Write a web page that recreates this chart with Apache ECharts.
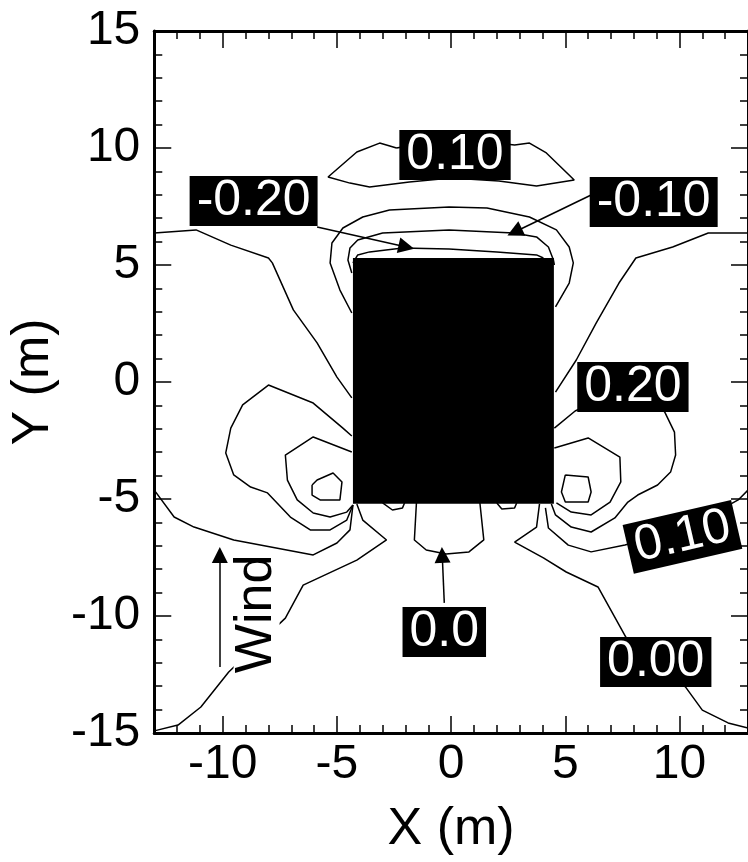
<!DOCTYPE html>
<html>
<head>
<meta charset="utf-8">
<script src="https://cdn.jsdelivr.net/npm/echarts@6/dist/echarts.min.js"></script>
<style>
html,body{margin:0;padding:0;background:#fff;}
#chart{width:748px;height:862px;}
</style>
</head>
<body>
<div id="chart"></div>
<script>
// ---- tick labels ----
const xTicks = [-10, -5, 0, 5, 10];
const yTicks = [-15, -10, -5, 0, 5, 10, 15];
const xMinorTicks = [-13,-12,-11,-10,-9,-8,-7,-6,-5,-4,-3,-2,-1,0,1,2,3,4,5,6,7,8,9,10,11,12,13];
const yMinorTicks = [-15,-14,-13,-12,-11,-10,-9,-8,-7,-6,-5,-4,-3,-2,-1,0,1,2,3,4,5,6,7,8,9,10,11,12,13,14,15];

// ---- building (x range, y range) ----
const buildingX = [-4.3, 4.5];
const buildingY = [-5.2, 5.3];

// ---- contour lines [x, y] ----
const lensTop010 = [[-2.39,10.0],[-3.13,10.21],[-4.13,9.83],[-5.39,8.76],[-4.43,8.50],[-3.57,8.33],[-1.83,8.55],[0.0,8.72],[2.09,8.59],[3.74,8.38],[5.39,8.63],[4.17,9.79],[3.43,10.21],[2.78,10.13],[0.0,10.43],[-2.39,10.0]];
const roofOuter = [[-4.35,2.95],[-4.87,3.93],[-5.30,5.09],[-5.22,5.94],[-4.74,6.58],[-3.87,7.05],[-2.70,7.35],[-0.09,7.48],[1.57,7.44],[3.43,7.05],[4.61,6.50],[5.17,5.77],[5.35,5.09],[5.17,4.23],[4.57,3.21]];
const roofM010 = [[-4.35,4.66],[-4.52,5.21],[-4.43,5.73],[-4.09,6.07],[-3.00,6.37],[-0.09,6.50],[2.74,6.37],[3.74,6.20],[4.26,5.77],[4.48,5.21],[4.52,5.00]];
const roofM020 = [[-4.30,5.09],[-4.09,5.43],[-3.57,5.56],[-2.13,5.73],[-0.09,5.68],[2.00,5.56],[3.74,5.43],[4.04,5.30]];
const upperLeft000 = [[-13.0,6.37],[-11.17,6.50],[-9.65,5.85],[-8.0,5.30],[-7.83,5.09],[-6.91,3.08],[-5.87,1.67],[-5.0,0.21],[-4.35,-0.68]];
const upperRight000 = [[13.0,6.37],[11.26,6.37],[9.70,5.77],[8.09,5.30],[7.35,4.23],[6.35,2.52],[5.48,0.94],[4.57,-0.43]];
const leftRing020 = [[-4.35,-2.31],[-4.74,-1.97],[-6.04,-0.90],[-8.0,-0.13],[-9.13,-0.98],[-9.65,-1.97],[-9.87,-3.03],[-9.52,-3.97],[-8.78,-4.49],[-8.04,-4.74],[-7.04,-5.77],[-6.17,-6.32],[-5.30,-6.32],[-4.57,-5.90],[-4.30,-5.26]];
const rightRing020 = [[4.52,-1.97],[5.43,-1.24],[7.09,-0.47],[8.52,-0.43],[9.35,-1.28],[9.78,-2.14],[9.83,-3.12],[9.61,-3.85],[9.04,-4.40],[8.17,-4.83],[7.74,-5.13],[7.17,-5.81],[6.13,-6.41],[5.26,-6.20],[4.57,-5.68],[4.39,-5.21]];
const leftRingMid = [[-4.35,-2.99],[-6.04,-2.35],[-7.26,-3.12],[-7.17,-4.19],[-6.74,-5.04],[-6.04,-5.60],[-5.30,-5.77],[-4.57,-5.56],[-4.30,-5.26]];
const rightRingMid = [[4.52,-2.82],[6.0,-2.39],[7.39,-3.21],[7.43,-4.27],[6.96,-5.13],[6.13,-5.68],[5.26,-5.56],[4.61,-5.17]];
const leftCore = [[-6.09,-4.40],[-5.87,-4.19],[-5.17,-3.89],[-4.78,-4.27],[-4.87,-5.04],[-5.74,-5.04],[-6.09,-4.83],[-6.09,-4.40]];
const rightCore = [[5.0,-3.97],[6.0,-4.06],[6.13,-4.70],[6.0,-5.13],[5.0,-5.13],[4.83,-4.70],[5.0,-3.97]];
const left010 = [[-13.0,-4.62],[-12.13,-5.77],[-11.26,-6.20],[-9.52,-6.75],[-6.04,-7.39],[-5.0,-6.88],[-4.43,-6.32],[-4.30,-5.26]];
const right010 = [[4.13,-5.38],[4.26,-6.24],[5.13,-6.97],[6.13,-7.26],[7.61,-6.97],[10.35,-6.24],[12.57,-5.04],[13.0,-4.62]];
const lowerLeft000 = [[-4.13,-5.21],[-3.87,-5.90],[-2.83,-6.75],[-4.13,-7.61],[-6.48,-8.68],[-7.26,-10.09],[-9.74,-12.39],[-10.96,-13.89],[-11.96,-14.66],[-13.0,-14.91]];
const lowerRight000 = [[3.87,-5.21],[3.74,-6.20],[2.78,-6.84],[4.04,-7.52],[5.04,-8.12],[6.43,-8.76],[7.65,-10.90],[9.0,-12.0],[10.26,-13.03],[11.0,-14.02],[12.13,-14.57],[13.0,-14.79]];
const wake00 = [[-1.52,-5.17],[-1.61,-6.75],[-1.09,-7.18],[-0.22,-7.35],[0.78,-7.26],[1.43,-6.75],[1.26,-5.17]];
const wakeBumpL = [[-3.0,-5.17],[-2.57,-5.47],[-2.13,-5.38],[-2.04,-5.17]];
const wakeBumpR = [[2.0,-5.17],[2.22,-5.43],[2.78,-5.38],[2.87,-5.17]];

// ---- contour labels ----
const labelTexts = ['0.10', '-0.20', '-0.10', '0.20', '0.10', '0.0', '0.00'];
const labelX = [0.17, -8.65, 8.87, 7.96, 10.13, -0.30, 8.96];
const labelY = [9.70, 7.74, 7.69, -0.21, -6.62, -10.68, -11.97];
const labelRotate = [0, 0, 0, 0, 13, 0, 0];

// ---- arrows: [start, end] ----
const arrows = [
  [[-5.87, 6.62], [-1.96, 5.77]],
  [[6.13, 7.99], [2.78, 6.41]],
  [[-0.30, -9.44], [-0.39, -7.39]],
  [[-10.13, -12.18], [-10.13, -7.39]]
];
const windText = 'Wind';
const windPos = [-8.52, -9.91];

const FONT = 'Liberation Sans, Arial, Helvetica, sans-serif';

const contours = [lensTop010, roofOuter, roofM010, roofM020, upperLeft000, upperRight000,
  leftRing020, rightRing020, leftRingMid, rightRingMid, leftCore, rightCore,
  left010, right010, lowerLeft000, lowerRight000, wake00, wakeBumpL, wakeBumpR];

const chart = echarts.init(document.getElementById('chart'), null, {renderer: 'canvas'});

function xAx(pos, major, showLabel, showLine) {
  return {
    type: 'value', position: pos, min: -13, max: 13,
    axisLine: {show: showLine, onZero: false, lineStyle: {color: '#000', width: 3}},
    axisTick: {show: true, inside: true, length: major ? 17 : 8, lineStyle: {color: '#000', width: 1.5},
      customValues: major ? xTicks : xMinorTicks},
    axisLabel: {show: showLabel, customValues: xTicks, margin: 8, color: '#000', fontSize: 48, fontFamily: FONT},
    splitLine: {show: false},
    name: showLabel ? 'X (m)' : '', nameLocation: 'middle', nameGap: 71,
    nameTextStyle: {color: '#000', fontSize: 52, fontFamily: FONT}
  };
}
function yAx(pos, major, showLabel, showLine) {
  return {
    type: 'value', position: pos, min: -15, max: 15,
    axisLine: {show: showLine, onZero: false, lineStyle: {color: '#000', width: 3}},
    axisTick: {show: true, inside: true, length: major ? 17 : 8, lineStyle: {color: '#000', width: 1.5},
      customValues: major ? yTicks : yMinorTicks},
    axisLabel: {show: showLabel, customValues: yTicks, margin: 14, color: '#000', fontSize: 48, fontFamily: FONT},
    splitLine: {show: false},
    name: showLabel ? 'Y (m)' : '', nameLocation: 'middle', nameGap: 82,
    nameTextStyle: {color: '#000', fontSize: 52, fontFamily: FONT}
  };
}

const series = [];
series.push({
  type: 'custom', xAxisIndex: 0, yAxisIndex: 0, z: 2, silent: true,
  data: [[buildingX[0], buildingY[0], buildingX[1], buildingY[1]]],
  encode: {x: [0, 2], y: [1, 3]},
  renderItem: function (params, api) {
    const p0 = api.coord([api.value(0), api.value(3)]);
    const p1 = api.coord([api.value(2), api.value(1)]);
    return {type: 'rect', shape: {x: p0[0], y: p0[1], width: p1[0] - p0[0], height: p1[1] - p0[1]},
      style: {fill: '#000'}};
  }
});
contours.forEach(function (c) {
  series.push({
    type: 'line', xAxisIndex: 0, yAxisIndex: 0, data: c, z: 3, silent: true,
    symbol: 'none', showSymbol: false, smooth: false,
    lineStyle: {color: '#000', width: 1.5}
  });
});
series.push({
  type: 'lines', coordinateSystem: 'cartesian2d', xAxisIndex: 0, yAxisIndex: 0, z: 4, silent: true,
  symbol: ['none', 'triangle'], symbolSize: [9, 16],
  lineStyle: {color: '#000', width: 1.5, opacity: 1},
  itemStyle: {color: '#000'},
  data: arrows.map(function (a) { return {coords: a}; })
});
series.push({
  type: 'scatter', xAxisIndex: 0, yAxisIndex: 0, z: 10, zlevel: 1, silent: true,
  symbolSize: 0, itemStyle: {color: '#000', opacity: 1},
  data: labelTexts.map(function (t, i) {
    return {value: [labelX[i], labelY[i]], name: t,
      label: {rotate: labelRotate[i]}};
  }).concat([{value: windPos, name: windText,
    label: {rotate: 90, color: '#000', backgroundColor: '#fff', fontSize: 52, padding: [0, 2], lineHeight: 46}}]),
  label: {
    show: true, position: 'inside', formatter: '{b}', opacity: 1,
    color: '#fff', backgroundColor: '#000', fontSize: 50, fontFamily: FONT,
    padding: [1, 7], lineHeight: 48
  },
  labelLayout: {hideOverlap: false}
});

chart.setOption({
  animation: false,
  backgroundColor: '#fff',
  grid: {left: 153, right: -3, top: 31, bottom: 129, containLabel: false},
  xAxis: [xAx('bottom', true, true, true), xAx('bottom', false, false, false),
          xAx('top', true, false, true), xAx('top', false, false, false)],
  yAxis: [yAx('left', true, true, true), yAx('left', false, false, false),
          yAx('right', true, false, true), yAx('right', false, false, false)],
  series: series
});
</script>
</body>
</html>
